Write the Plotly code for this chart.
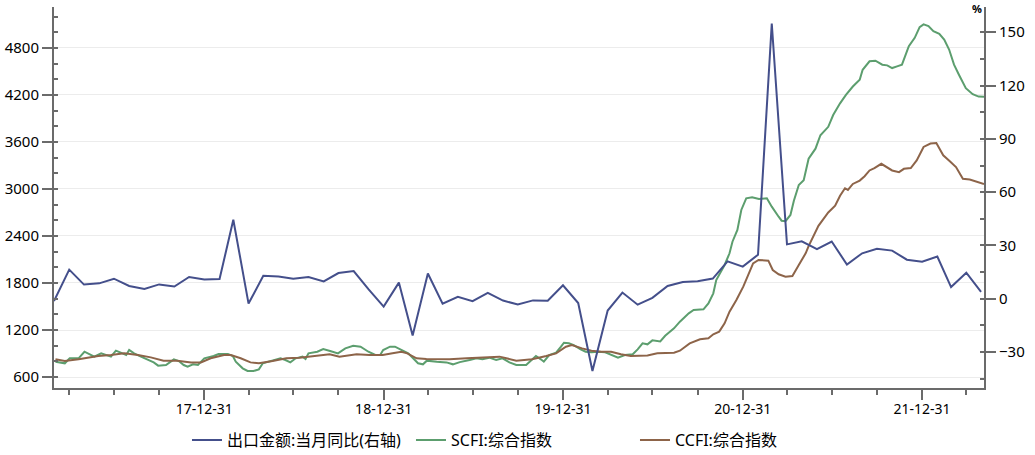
import plotly.graph_objects as go
import pandas as pd

# ---------------- data ----------------
export_months = pd.date_range(start="2017-02-28", periods=63, freq=pd.offsets.MonthEnd())
export_yoy = [
    -1.3, 16.4, 8.0, 8.7, 11.3, 7.2, 5.5, 8.1, 6.9, 12.3, 10.9,
    11.1, 44.5, -2.7, 12.9, 12.6, 11.3, 12.2, 9.8, 14.5, 15.6, 5.4, -4.4,
    9.1, -20.7, 14.2, -2.7, 1.1, -1.3, 3.3, -1.0, -3.2, -0.9, -1.1, 7.6,
    -2.4, -40.6, -6.6, 3.5, -3.3, 0.5, 7.2, 9.5, 9.9, 11.4, 21.1, 18.1,
    24.8, 154.9, 30.6, 32.3, 27.9, 32.2, 19.3, 25.6, 28.1, 27.1, 22.0, 20.9,
    23.8, 6.6, 14.7, 3.9,
]

scfi_dates = [
    "2017-03-03", "2017-03-22", "2017-04-01", "2017-04-19", "2017-05-01", "2017-05-11", "2017-05-21",
    "2017-06-04", "2017-06-18", "2017-06-24", "2017-07-04", "2017-07-15", "2017-07-25", "2017-07-31",
    "2017-08-10", "2017-08-24", "2017-09-07", "2017-09-19", "2017-09-28", "2017-10-14", "2017-10-30",
    "2017-11-09", "2017-11-19", "2017-11-27", "2017-12-08", "2017-12-18", "2017-12-31", "2018-01-09",
    "2018-01-19", "2018-01-29", "2018-02-17", "2018-02-27", "2018-03-05", "2018-03-19", "2018-03-29",
    "2018-04-10", "2018-04-21", "2018-04-29", "2018-05-11", "2018-05-25", "2018-06-04", "2018-06-14",
    "2018-06-24", "2018-07-05", "2018-07-19", "2018-07-25", "2018-07-31", "2018-08-18", "2018-08-30",
    "2018-09-13", "2018-09-29", "2018-10-14", "2018-10-30", "2018-11-14", "2018-11-30", "2018-12-14",
    "2018-12-24", "2018-12-30", "2019-01-13", "2019-01-23", "2019-02-07", "2019-02-19", "2019-03-01",
    "2019-03-11", "2019-03-21", "2019-03-29", "2019-04-18", "2019-05-08", "2019-05-21", "2019-06-04",
    "2019-06-24", "2019-07-08", "2019-07-20", "2019-08-03", "2019-08-17", "2019-08-30", "2019-09-13",
    "2019-09-27", "2019-10-17", "2019-10-29", "2019-11-06", "2019-11-16", "2019-11-22", "2019-12-03",
    "2019-12-17", "2019-12-27", "2020-01-02", "2020-01-12", "2020-01-22", "2020-02-05", "2020-02-15",
    "2020-02-27", "2020-03-12", "2020-03-26", "2020-04-07", "2020-04-21", "2020-05-05", "2020-05-21",
    "2020-05-31", "2020-06-10", "2020-06-20", "2020-06-30", "2020-07-16", "2020-07-26", "2020-08-13",
    "2020-08-25", "2020-09-12", "2020-09-22", "2020-10-12", "2020-10-22", "2020-11-01", "2020-11-07",
    "2020-11-24", "2020-12-04", "2020-12-10", "2020-12-20", "2020-12-28", "2021-01-07", "2021-01-19",
    "2021-02-02", "2021-02-18", "2021-02-28", "2021-03-14", "2021-03-20", "2021-03-28", "2021-04-07",
    "2021-04-14", "2021-04-24", "2021-05-04", "2021-05-14", "2021-05-28", "2021-06-07", "2021-06-23",
    "2021-07-03", "2021-07-17", "2021-07-29", "2021-08-12", "2021-08-26", "2021-09-01", "2021-09-15",
    "2021-09-27", "2021-10-11", "2021-10-21", "2021-10-31", "2021-11-10", "2021-11-20", "2021-12-04",
    "2021-12-16", "2021-12-26", "2022-01-03", "2022-01-13", "2022-01-23", "2022-02-04", "2022-02-14",
    "2022-02-24", "2022-03-06", "2022-03-16", "2022-03-30", "2022-04-13", "2022-04-25", "2022-05-06",
]
scfi_values = [
    795, 775, 839, 839, 923, 894, 860,
    902, 868, 860, 936, 902, 881, 945,
    902, 860, 817, 787, 745, 753, 826,
    804, 753, 732, 762, 753, 839, 851,
    868, 894, 894, 868, 796, 711, 677,
    677, 698, 775, 796, 817, 839, 817,
    787, 839, 860, 830, 902, 923, 957,
    932, 902, 966, 1000, 987, 923, 881,
    881, 945, 987, 987, 945, 902, 839,
    775, 762, 809, 796, 787, 762, 790,
    817, 839, 826, 847, 817, 839, 787,
    753, 753, 817, 868, 826, 796, 881,
    911, 987, 1038, 1030, 1008, 953, 923,
    915, 923, 915, 881, 847, 881, 890,
    953, 1030, 1017, 1068, 1055, 1127, 1221,
    1306, 1413, 1455, 1464, 1540, 1668, 1838,
    2030, 2179, 2327, 2477, 2732, 2881, 2894,
    2872, 2880, 2774, 2646, 2595, 2590, 2668,
    2850, 3050, 3110, 3386, 3514, 3686, 3793,
    3943, 4093, 4200, 4307, 4393, 4521, 4629,
    4637, 4586, 4577, 4543, 4564, 4586, 4821,
    4929, 5066, 5100, 5079, 5014, 4980, 4907,
    4779, 4586, 4457, 4286, 4209, 4179, 4177,
]

ccfi_dates = [
    "2017-03-03", "2017-03-22", "2017-04-19", "2017-05-09", "2017-05-29", "2017-06-24", "2017-07-21",
    "2017-08-18", "2017-09-13", "2017-10-09", "2017-11-06", "2017-12-04", "2017-12-24", "2018-01-13",
    "2018-02-09", "2018-02-23", "2018-03-15", "2018-04-04", "2018-04-21", "2018-05-19", "2018-06-16",
    "2018-07-13", "2018-08-16", "2018-09-12", "2018-10-02", "2018-11-06", "2018-12-02", "2018-12-29",
    "2019-01-18", "2019-02-05", "2019-02-17", "2019-03-08", "2019-03-28", "2019-04-24", "2019-05-14",
    "2019-06-18", "2019-07-20", "2019-08-24", "2019-09-27", "2019-10-29", "2019-11-27", "2019-12-17",
    "2020-01-06", "2020-01-18", "2020-02-08", "2020-02-27", "2020-03-18", "2020-04-07", "2020-04-27",
    "2020-05-17", "2020-06-20", "2020-07-10", "2020-08-13", "2020-08-25", "2020-09-14", "2020-10-05",
    "2020-10-22", "2020-11-01", "2020-11-13", "2020-11-24", "2020-12-04", "2020-12-18", "2021-01-01",
    "2021-01-11", "2021-01-21", "2021-02-01", "2021-02-21", "2021-03-02", "2021-03-14", "2021-03-28",
    "2021-04-11", "2021-04-24", "2021-05-08", "2021-05-14", "2021-06-03", "2021-06-23", "2021-07-07",
    "2021-07-17", "2021-07-27", "2021-08-02", "2021-08-12", "2021-08-26", "2021-09-05", "2021-09-15",
    "2021-09-25", "2021-10-09", "2021-10-21", "2021-10-31", "2021-11-14", "2021-11-24", "2021-12-08",
    "2021-12-20", "2022-01-03", "2022-01-17", "2022-01-29", "2022-02-12", "2022-02-26", "2022-03-10",
    "2022-03-24", "2022-04-07", "2022-05-06",
]
ccfi_values = [
    826, 804, 826, 847, 868, 881, 902,
    881, 851, 809, 809, 787, 787, 839,
    881, 881, 839, 787, 775, 804, 839,
    847, 868, 890, 860, 890, 881, 881,
    902, 923, 902, 839, 830, 826, 826,
    839, 847, 860, 809, 826, 868, 902,
    987, 1008, 966, 936, 923, 923, 890,
    868, 875, 902, 911, 936, 1030, 1081,
    1094, 1145, 1179, 1285, 1434, 1583, 1753,
    1902, 2051, 2094, 2085, 1966, 1911, 1881,
    1889, 2030, 2179, 2271, 2529, 2700, 2786,
    2914, 3009, 2987, 3064, 3107, 3163, 3236,
    3266, 3321, 3279, 3236, 3214, 3257, 3266,
    3364, 3536, 3579, 3587, 3429, 3351, 3279,
    3129, 3120, 3064,
]

series_names = ["出口金额:当月同比(右轴)", "SCFI:综合指数", "CCFI:综合指数"]
colors = ["#444f8b", "#5c9e6e", "#8d6449"]

# ---------------- figure ----------------
FONT = "Noto Sans, Noto Sans CJK SC, sans-serif"
fig = go.Figure()
fig.add_trace(go.Scatter(x=export_months, y=export_yoy, name=series_names[0], yaxis="y2",
                         mode="lines", line=dict(color=colors[0], width=2)))
fig.add_trace(go.Scatter(x=pd.to_datetime(scfi_dates), y=scfi_values, name=series_names[1],
                         mode="lines", line=dict(color=colors[1], width=2)))
fig.add_trace(go.Scatter(x=pd.to_datetime(ccfi_dates), y=ccfi_values, name=series_names[2],
                         mode="lines", line=dict(color=colors[2], width=2)))

major_x = [f"{y}-12-31" for y in range(2016, 2022)]
minor_x = []
for y in range(2017, 2023):
    for md in ["03-31", "06-30", "09-30", "12-31"]:
        minor_x.append(f"{y}-{md}")

axis_col = "#6b6b6b"
fig.update_layout(
    width=1035, height=455,
    margin=dict(l=54, r=51, t=7, b=67, autoexpand=False),
    paper_bgcolor="white", plot_bgcolor="white",
    font=dict(family=FONT, size=14, color="#000"),
    showlegend=True,
    legend=dict(orientation="h", x=0.143, xanchor="left", y=-0.137, yanchor="middle",
                font=dict(size=16, family=FONT), entrywidth=179, entrywidthmode="pixels",
                bgcolor="rgba(0,0,0,0)", itemwidth=30),
    xaxis=dict(
        type="date", range=["2017-02-28", "2022-05-06"],
        showline=True, linecolor=axis_col, linewidth=2,
        showgrid=False, zeroline=False,
        tickmode="array", tickvals=major_x, tickformat="%y-%m-%d",
        ticks="outside", ticklen=10, tickwidth=2, tickcolor=axis_col,
        tickfont=dict(size=14), ticklabelstandoff=-3,
        minor=dict(tickmode="array", tickvals=minor_x, ticks="outside", ticklen=5,
                   tickwidth=2, tickcolor=axis_col, showgrid=False),
    ),
    yaxis=dict(
        range=[460, 5322],
        showline=True, linecolor=axis_col, linewidth=2, mirror=False,
        showgrid=True, gridcolor="#ececec", gridwidth=1, zeroline=False,
        tick0=600, dtick=600,
        ticks="outside", ticklen=10, tickwidth=2, tickcolor=axis_col,
        tickfont=dict(size=15),
        minor=dict(tick0=600, dtick=200, ticks="inside", ticklen=4, tickwidth=2,
                   tickcolor=axis_col, showgrid=False),
    ),
    yaxis2=dict(
        range=[-50.2, 164.2], overlaying="y", side="right",
        showline=True, linecolor=axis_col, linewidth=2,
        showgrid=False, zeroline=False,
        tick0=0, dtick=30,
        ticks="outside", ticklen=10, tickwidth=2, tickcolor=axis_col,
        tickfont=dict(size=15),
        minor=dict(tick0=0, dtick=15, ticks="inside", ticklen=4, tickwidth=2,
                   tickcolor=axis_col, showgrid=False),
    ),
    annotations=[dict(text="<b>%</b>", x=0.992, y=0.995, xref="paper", yref="paper",
                      xanchor="center", yanchor="middle", showarrow=False,
                      font=dict(size=11, family=FONT, color="#000"))],
)

fig.write_html("out.html")
